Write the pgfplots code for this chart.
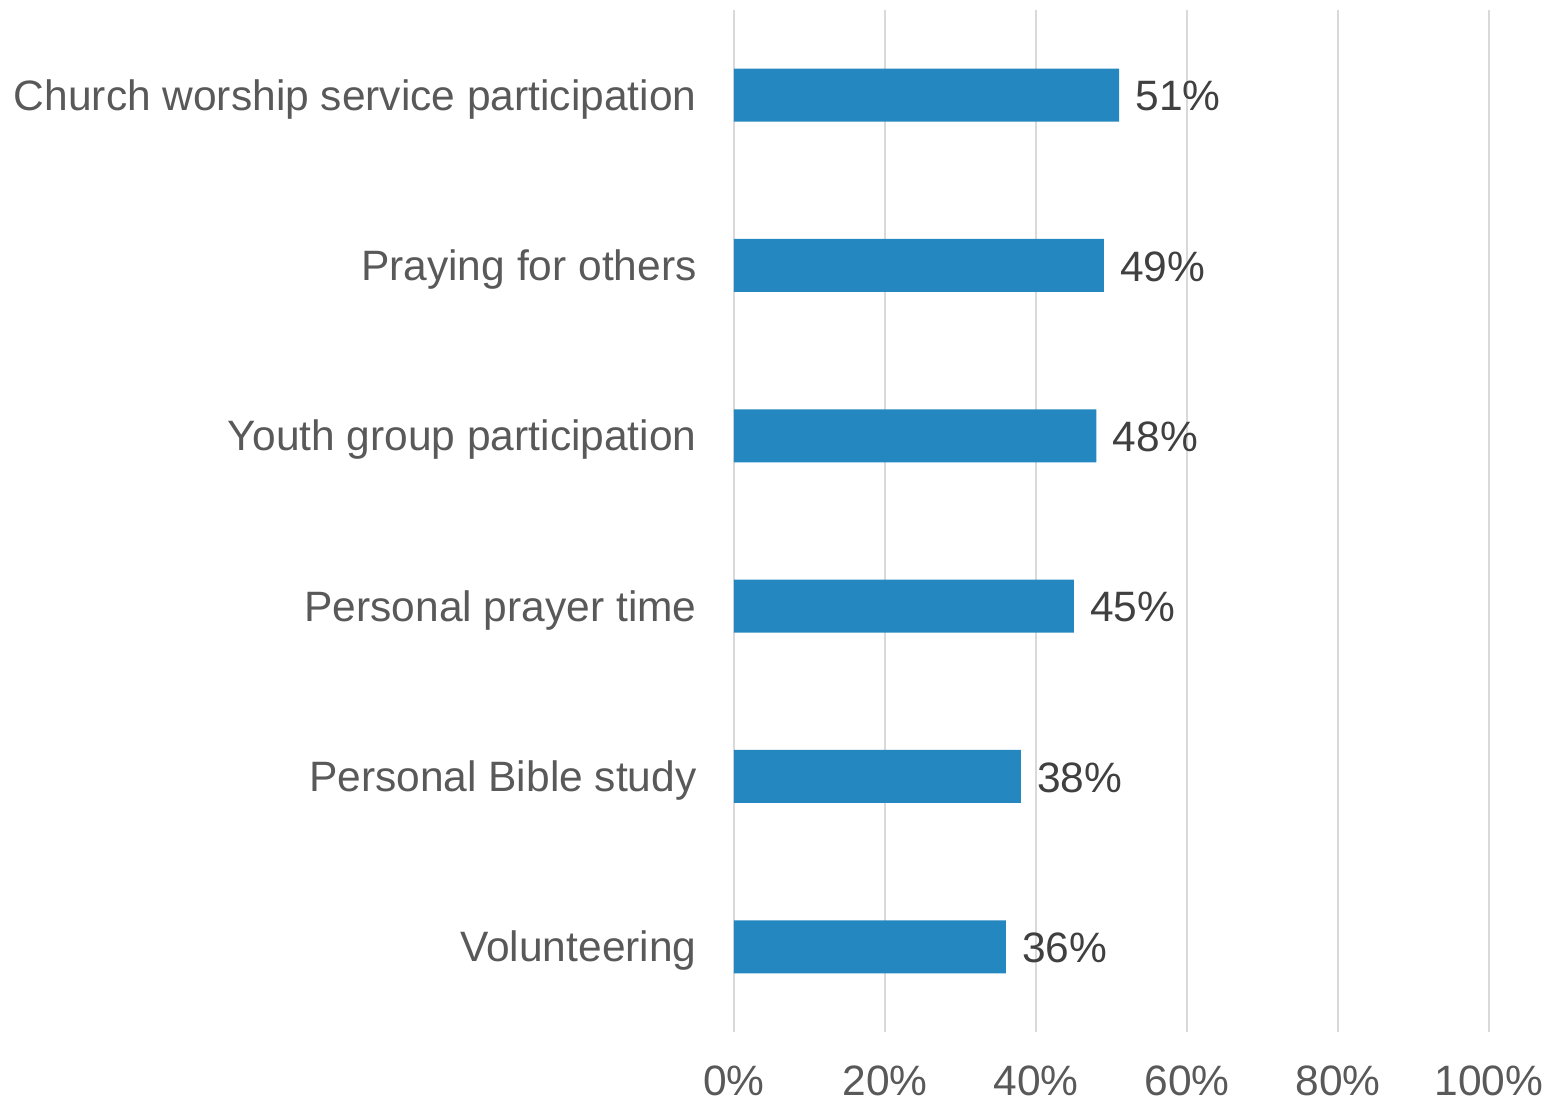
\documentclass[border=0pt]{standalone}
\usepackage{fontspec}
\setmainfont{Liberation Sans}
\usepackage{pgfplots}
\pgfplotsset{compat=1.18}
\definecolor{barblue}{RGB}{37,135,192}
\definecolor{textgray}{RGB}{89,89,89}
\definecolor{labelgray}{RGB}{64,64,64}
\definecolor{gridgray}{RGB}{217,217,217}
\begin{document}
\begin{tikzpicture}
\path[use as bounding box] (0,0) rectangle (774pt,550.5pt);
\begin{axis}[
  at={(367pt,34.5pt)}, anchor=south west,
  scale only axis, width=377.5pt, height=511pt,
  xmin=0, xmax=100, ymin=-0.5, ymax=5.5,
  xbar, bar width=26.5pt,
  /pgf/number format/assume math mode=true,
  axis line style={draw=none},
  xmajorgrids, grid style={color=gridgray, line width=1pt},
  xtick={0,20,40,60,80,100},
  xticklabels={0\%,20\%,40\%,60\%,80\%,100\%},
  ytick={0,1,2,3,4,5},
  yticklabels={Volunteering,Personal Bible study,Personal prayer time,Youth group participation,Praying for others,Church worship service participation},
  major tick length=0pt,
  tick label style={font=\fontsize{21.25}{25}\selectfont, text=textgray},
  xticklabel style={inner sep=0pt, anchor=north, yshift=-16.5pt},
  yticklabel style={inner sep=0pt, anchor=east, xshift=-18.5pt, yshift=-2pt},
  point meta=x,
  nodes near coords={\pgfmathprintnumber{\pgfplotspointmeta}\%},
  nodes near coords style={font=\fontsize{21.25}{25}\selectfont, text=labelgray, anchor=west, inner sep=0pt, xshift=8pt, yshift=-0.5pt},
]
\addplot[draw=none, fill=barblue] coordinates {(36,0) (38,1) (45,2) (48,3) (49,4) (51,5)};
\end{axis}
\end{tikzpicture}
\end{document}
